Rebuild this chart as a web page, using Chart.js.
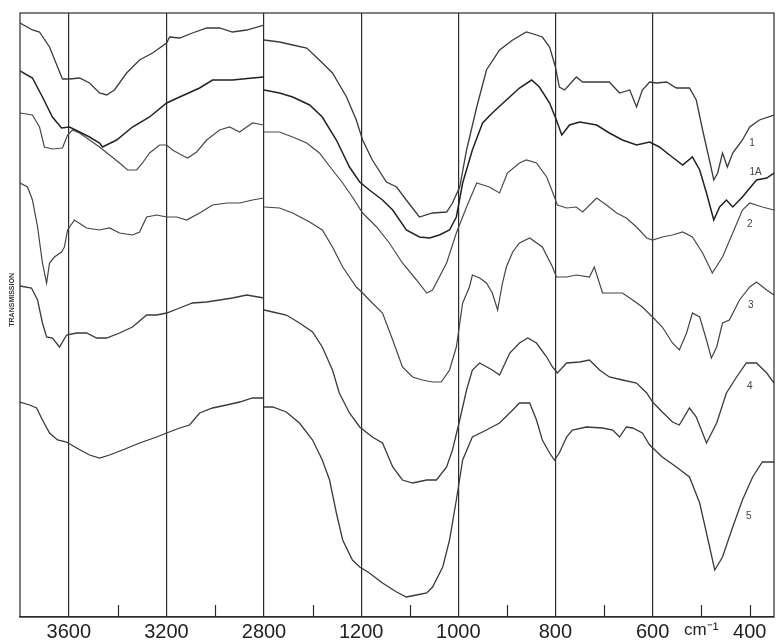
<!DOCTYPE html>
<html><head><meta charset="utf-8">
<script src="https://cdn.jsdelivr.net/npm/chart.js@4.4.0/dist/chart.umd.min.js"></script>
<style>html,body{margin:0;padding:0;background:#fff}canvas{display:block}</style>
</head><body>
<canvas id="c" width="776" height="643"></canvas>
<script>
// ---- Axis definition (wavenumber, cm-1) : broken axis 3800-2800 | 1400-350
const HIGH_RANGE = [2800, 3800];
const LOW_RANGE = [350, 1400];
const TICKS_HIGH = [3800, 3600, 3400, 3200, 3000, 2800];
const TICKS_LOW = [1400, 1300, 1200, 1100, 1000, 900, 800, 700, 600, 500, 400];
const GRID_VALUES = [3600, 3200, 2800, 1200, 1000, 800, 600];
const MINOR_TICKS = [3400, 3000, 1300, 1100, 900, 700, 500, 400];
const TICK_LABELS = {3600:'3600', 3200:'3200', 2800:'2800', 1200:'1200', 1000:'1000', 800:'800', 600:'600', 500:'cm\u207B\u00B9', 400:'400'};
const Y_TITLE = 'TRANSMISSION';

// ---- Spectra: wavenumber (cm-1) / transmission (arbitrary, offset traces)
// Trace 1
const s1HighWn = [3800,3749,3720,3679,3646,3626,3597,3556,3515,3474,3445,3413,3363,3310,3257,3199,3187,3146,3093,3035,2982,2929,2871,2800];
const s1HighT  = [594,587,585,570,550,538,538,539,534,524,522,527,544,557,564,574,580,579,584,589,589,585,587,592];
const s1LowWn  = [1400,1368,1341,1312,1286,1259,1230,1210,1197,1177,1148,1127,1107,1080,1053,1024,1012,997,983,962,942,915,888,860,839,827,812,800,792,781,757,744,715,689,668,647,633,621,606,592,571,551,524,510,497,483,474,466,456,446,435,415,400,380,350];
const s1LowT   = [577,575,572,569,557,544,520,497,477,457,435,430,417,400,404,405,414,430,467,510,547,567,577,585,582,580,570,550,530,527,540,535,535,535,524,527,510,527,535,534,535,529,529,517,487,457,437,444,464,450,464,477,490,497,502];
// Trace 1A
const s1aHighWn = [3800,3749,3708,3667,3630,3597,3556,3515,3474,3462,3404,3339,3269,3199,3146,3064,3011,2929,2847,2800];
const s1aHighT  = [546,539,520,500,489,490,485,480,474,470,477,490,500,514,520,529,537,537,539,540];
const s1aLowWn  = [1400,1368,1341,1306,1280,1251,1224,1203,1183,1156,1135,1107,1080,1059,1039,1018,1004,991,971,950,930,901,874,849,833,812,798,787,771,750,715,689,662,633,606,586,565,538,518,503,489,474,462,448,435,415,386,365,350];
const s1aLowT   = [527,524,520,512,500,477,450,435,427,417,407,387,380,379,382,387,400,434,467,494,504,517,529,537,530,514,497,482,492,495,492,484,477,472,475,470,462,452,460,447,424,397,410,417,410,420,437,439,444];
// Trace 2
const s2HighWn = [3800,3749,3720,3700,3667,3626,3605,3585,3556,3515,3474,3433,3392,3359,3322,3298,3269,3228,3199,3175,3138,3113,3076,3035,2982,2941,2900,2847,2800];
const s2HighT  = [504,502,490,470,468,469,482,487,484,477,470,462,454,447,447,454,464,472,472,467,462,459,465,477,487,490,485,494,492];
const s2LowWn  = [1400,1368,1341,1312,1286,1259,1238,1218,1197,1168,1142,1115,1086,1065,1053,1024,1004,983,962,936,915,899,874,860,839,818,806,796,777,757,744,715,695,674,654,633,612,600,580,559,538,518,497,477,456,435,415,400,374,350];
const s2LowT   = [485,485,480,474,464,447,434,420,404,390,374,354,337,324,327,354,384,410,434,430,424,444,454,457,454,440,425,412,409,410,405,419,412,404,399,390,379,377,380,382,385,380,364,344,360,384,407,414,410,407];
// Trace 3
const s3HighWn = [3800,3769,3749,3728,3708,3691,3679,3659,3630,3618,3605,3577,3527,3474,3433,3392,3339,3310,3281,3240,3199,3158,3117,3064,3011,2953,2900,2847,2800];
const s3HighT  = [434,430,417,390,354,334,354,360,365,370,387,397,389,387,389,384,382,385,400,402,400,400,397,404,412,414,414,417,419];
const s3LowWn  = [1400,1368,1341,1306,1280,1259,1238,1210,1197,1177,1156,1135,1115,1094,1074,1053,1035,1018,1004,991,977,971,956,942,930,919,909,901,888,874,853,827,806,798,777,757,730,720,703,695,662,641,621,600,580,559,545,530,518,503,489,479,468,456,442,421,400,386,365,350];
const s3LowT   = [410,409,404,395,387,370,350,330,324,314,304,277,250,240,237,235,235,247,270,314,330,342,339,334,324,307,334,350,365,374,379,370,350,340,340,342,340,350,324,324,324,317,310,300,290,274,267,284,304,300,277,259,270,294,297,317,330,335,327,322];
// Trace 4
const s4HighWn = [3800,3753,3728,3708,3691,3667,3638,3609,3568,3527,3486,3445,3392,3339,3281,3240,3199,3146,3093,3035,2982,2929,2871,2800];
const s4HighT  = [331,329,317,294,280,279,270,282,284,284,279,279,284,290,302,302,304,309,314,315,317,319,322,319];
const s4LowWn  = [1400,1382,1354,1327,1300,1280,1259,1245,1224,1203,1177,1156,1135,1115,1094,1065,1045,1024,1012,997,983,971,956,930,915,894,874,857,839,818,806,796,777,750,730,709,689,662,633,612,600,580,559,545,524,510,489,468,448,427,407,386,365,350];
const s4LowT   = [307,305,302,294,285,270,247,224,204,190,180,174,150,137,134,137,137,150,167,197,227,247,254,247,242,264,274,279,274,260,250,244,254,255,257,247,240,237,234,224,215,205,195,192,209,200,174,194,224,240,254,254,244,234];
// Trace 5
const s5HighWn = [3800,3761,3732,3708,3679,3646,3609,3568,3515,3474,3433,3380,3310,3240,3199,3146,3105,3064,3011,2953,2900,2847,2800];
const s5HighT  = [215,212,209,197,184,177,175,169,162,159,162,167,174,180,184,189,192,204,209,212,215,219,219];
const s5LowWn  = [1400,1382,1354,1327,1300,1280,1265,1251,1238,1218,1203,1183,1156,1127,1107,1086,1065,1053,1032,1018,1004,991,971,942,915,888,874,853,839,827,812,802,792,777,765,736,703,682,668,654,641,621,606,580,551,524,503,489,472,456,435,415,394,374,350];
const s5LowT   = [210,210,205,194,177,157,137,104,77,57,50,44,34,25,20,22,24,30,50,77,117,157,180,187,194,207,214,214,197,177,164,157,164,180,187,190,189,187,180,190,189,184,172,160,150,140,114,84,47,60,90,117,140,155,155];

const SERIES_NAMES = ['1', '1A', '2', '3', '4', '5'];
const SERIES = [
  [s1HighWn, s1HighT, s1LowWn, s1LowT],
  [s1aHighWn, s1aHighT, s1aLowWn, s1aLowT],
  [s2HighWn, s2HighT, s2LowWn, s2LowT],
  [s3HighWn, s3HighT, s3LowWn, s3LowT],
  [s4HighWn, s4HighT, s4LowWn, s4LowT],
  [s5HighWn, s5HighT, s5LowWn, s5LowT]
];
// trace labels, anchored in data units of the low-wavenumber axis
const LABEL_ANCHOR_WN = [395, 388, 400, 398, 400, 402];
const LABEL_ANCHOR_T  = [474, 445, 393, 312, 231, 101];

// ---- styles
const LINE_STYLE = [
  {color:'#3a3a3a', width:1.3}, {color:'#222222', width:1.5}, {color:'#4a4a4a', width:1.2},
  {color:'#444444', width:1.2}, {color:'#3a3a3a', width:1.3}, {color:'#3a3a3a', width:1.3}
];
const INK = '#2b2b2b';
const FONT = '"Liberation Sans", Arial, Helvetica, sans-serif';

const pts = (w, t) => w.map((x, i) => ({x: x, y: t[i]}));
const datasets = [];
SERIES.forEach((s, k) => {
  const st = LINE_STYLE[k];
  const common = {borderColor: st.color, borderWidth: st.width, pointRadius: 0, tension: 0, fill: false, yAxisID: 'y'};
  datasets.push(Object.assign({label: SERIES_NAMES[k] + ' (3800\u20132800)', data: pts(s[0], s[1]), xAxisID: 'xHigh'}, common));
  datasets.push(Object.assign({label: SERIES_NAMES[k], data: pts(s[2], s[3]), xAxisID: 'xLow'}, common));
});

function xAxis(range, tickValues, weight) {
  return {
    type: 'linear', position: 'bottom', stack: 'wn', stackWeight: weight,
    min: range[0], max: range[1], reverse: true,
    afterBuildTicks: s => { s.ticks = tickValues.map(v => ({value: v})); },
    afterFit: s => { s.height = 26; s.paddingLeft = 0; s.paddingRight = 0; },
    grid: {
      color: c => (c.tick && GRID_VALUES.includes(c.tick.value)) ? INK : 'rgba(0,0,0,0)',
      lineWidth: 1.2, drawTicks: false
    },
    border: {display: true, color: INK, width: 1.2},
    ticks: {
      autoSkip: false, maxRotation: 0, minRotation: 0, padding: 3, color: '#222',
      font: c => ({family: FONT, size: (c.tick && c.tick.value === 500) ? 17 : 20}),
      callback: v => (TICK_LABELS[v] !== undefined ? TICK_LABELS[v] : '')
    }
  };
}

const decor = {
  id: 'decor',
  afterDraw(chart) {
    const {ctx, chartArea: a, scales} = chart;
    ctx.save();
    ctx.strokeStyle = INK; ctx.lineWidth = 1.2;
    ctx.strokeRect(a.left, a.top, a.right - a.left, a.bottom - a.top);
    [scales.xHigh, scales.xLow].forEach(s => s.ticks.forEach(t => {
      if (MINOR_TICKS.includes(t.value)) {
        const x = Math.round(s.getPixelForValue(t.value)) + 0.5;
        ctx.beginPath(); ctx.moveTo(x, a.bottom); ctx.lineTo(x, a.bottom - 12); ctx.stroke();
      }
    }));
    // y-axis title
    ctx.save();
    ctx.translate(a.left - 8, a.top + (a.bottom - a.top) * 0.475);
    ctx.rotate(-Math.PI / 2);
    ctx.fillStyle = '#333'; ctx.font = 'bold 7px ' + FONT;
    ctx.textAlign = 'center'; ctx.textBaseline = 'middle';
    ctx.fillText(Y_TITLE, 0, 0);
    ctx.restore();
    // trace labels
    ctx.fillStyle = '#444'; ctx.font = '10px ' + FONT;
    ctx.textAlign = 'center'; ctx.textBaseline = 'middle';
    SERIES_NAMES.forEach((n, k) => {
      ctx.fillText(n, scales.xLow.getPixelForValue(LABEL_ANCHOR_WN[k]), scales.y.getPixelForValue(LABEL_ANCHOR_T[k]));
    });
    ctx.restore();
  }
};

new Chart(document.getElementById('c'), {
  type: 'line',
  data: {datasets: datasets},
  options: {
    responsive: false, animation: false, devicePixelRatio: 1,
    layout: {padding: {top: 13, right: 2, left: 0, bottom: 0}},
    plugins: {legend: {display: false}, tooltip: {enabled: false}, title: {display: false}},
    scales: {
      xHigh: xAxis(HIGH_RANGE, TICKS_HIGH, 244),
      xLow: xAxis(LOW_RANGE, TICKS_LOW, 510),
      y: {
        type: 'linear', position: 'left', min: 0, max: 604,
        ticks: {display: false}, grid: {display: false}, border: {display: false},
        afterFit: s => { s.width = 20; }
      }
    }
  },
  plugins: [decor]
});
</script>
</body></html>
